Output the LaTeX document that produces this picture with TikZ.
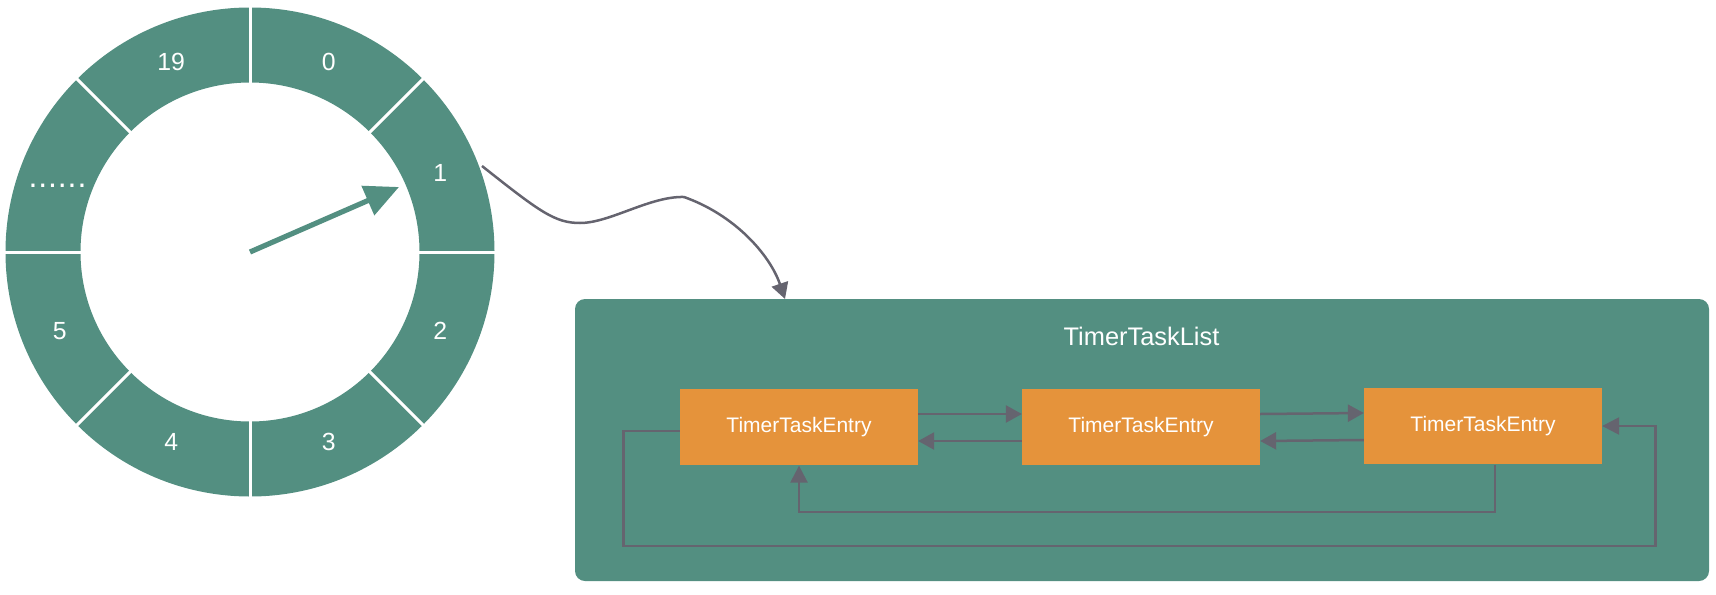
\documentclass[tikz,border=0pt]{standalone}
\usepackage{fontspec}
\setmainfont{Liberation Sans}
\usetikzlibrary{arrows.meta,calc}
\definecolor{wheelgreen}{HTML}{538F81}
\definecolor{entryorange}{HTML}{E5933B}
\definecolor{linegray}{HTML}{65646F}
\begin{document}
\begin{tikzpicture}[x=0.5pt,y=-0.5pt,
  sep/.style={draw=white,line width=1.5pt},
  ringlabel/.style={text=white,font=\fontsize{12.4pt}{14pt}\selectfont,inner sep=0pt},
  pointer/.style={draw=wheelgreen,line width=2.6pt,-{Triangle[length=17pt,width=15.5pt]}},
  link/.style={draw=linegray,line width=1.25pt,-{Triangle[length=8pt,width=8.5pt]}},
  conn/.style={draw=linegray,line width=1.25pt,-{Triangle[length=8.5pt,width=8.5pt]}},
  listbox/.style={fill=wheelgreen,rounded corners=5pt,minimum width=567pt,minimum height=141pt,inner sep=0pt},
  entry/.style={fill=entryorange,text=white,minimum width=118.75pt,minimum height=38.25pt,inner sep=0pt,font=\fontsize{10.5pt}{12pt}\selectfont},
  title/.style={text=white,font=\fontsize{12.7pt}{14pt}\selectfont,inner sep=0pt}]
\useasboundingbox (0,0) rectangle (1716,594);
% wheel
\coordinate (hub) at (250,252);
\fill[wheelgreen,even odd rule] (hub) circle (244.5) (hub) circle (169.5);
\foreach \a in {0,45,...,315}
  \draw[sep] ($(hub)+(\a:168)$) -- ($(hub)+(\a:246)$);
\node[ringlabel] (s0) at ($(hub)+(-67.5:206)$) {0};
\node[ringlabel] (s1) at ($(hub)+(-22.5:206)$) {1};
\node[ringlabel] (s2) at ($(hub)+(22.5:206)$) {2};
\node[ringlabel] (s3) at ($(hub)+(67.5:206)$) {3};
\node[ringlabel] (s4) at ($(hub)+(112.5:206)$) {4};
\node[ringlabel] (s5) at ($(hub)+(157.5:206)$) {5};
\node[ringlabel,font=\fontsize{16pt}{18pt}\selectfont] (sdots) at (57.5,186) {.\kern0.45pt.\kern0.45pt.\kern0.45pt.\kern0.45pt.\kern0.45pt.};
\node[ringlabel] (s19) at ($(hub)+(247.5:206)$) {19};
\coordinate (ptip) at (399,187);
\draw[pointer] (hub) -- (ptip);
% list
\node[listbox] (list) at (1142,440) {};
\node[title] (ttl) at (1141.5,336) {TimerTaskList};
\node[entry] (e1) at (799,427) {TimerTaskEntry};
\node[entry] (e2) at (1141,427) {TimerTaskEntry};
\node[entry] (e3) at (1483,426) {TimerTaskEntry};
\draw[link] ([yshift=6.5pt]e1.east) -- ([yshift=6.5pt]e2.west);
\draw[link] ([yshift=-7pt]e2.west) -- ([yshift=-7pt]e1.east);
\draw[link] ([yshift=6.5pt]e2.east) -- ([yshift=6.5pt]e3.west);
\draw[link] ([yshift=-7pt]e3.west) -- ([yshift=-7pt]e2.east);
\coordinate (l1) at (799,512);
\draw[conn] ([xshift=6pt]e3.south) |- (l1) -- (e1.south);
\coordinate (l2a) at (623.5,546);
\coordinate (l2b) at (1655.5,546);
\draw[conn] ([yshift=-2pt]e1.west) -| (l2a) -- (l2b) |- (e3.east);
% slot to list
\coordinate (cs) at (482,166);
\coordinate (ce) at (785,299);
\draw[link] (cs) .. controls (540,212) and (555,223) .. (580,223)
  .. controls (610,223) and (650,196) .. (684,197)
  .. controls (735,215) and (770,255) .. (ce);
\end{tikzpicture}
\end{document}
